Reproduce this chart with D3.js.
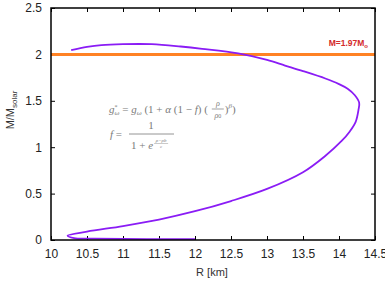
<!DOCTYPE html>
<html>
<head>
<meta charset="utf-8">
<script src="https://cdn.jsdelivr.net/npm/d3@7"></script>
<style>
  body { margin: 0; background: #fff; }
  svg { display: block; }
  .tick text { font-family: "Liberation Sans", Arial, sans-serif; font-size: 12px; fill: #222; }
</style>
</head>
<body>
<svg id="chart" width="385" height="282"></svg>
<script>
// mass-radius curve
let radius = [10.28, 10.5, 10.7, 11.0, 11.4, 11.8, 12.1, 12.6, 13.0, 13.25, 13.5, 13.81, 14.0, 14.12,
  14.22, 14.28, 14.27, 14.23, 14.15, 14.04, 13.8, 13.5, 13.0, 12.5, 12.0, 11.5, 11.0, 10.5,
  10.23, 10.32, 10.6, 11.0, 11.5, 12.0];
let mass = [2.045, 2.08, 2.10, 2.11, 2.11, 2.085, 2.06, 2.01, 1.94, 1.88, 1.82, 1.74, 1.68, 1.63,
  1.56, 1.48, 1.40, 1.27, 1.17, 1.07, 0.9, 0.73, 0.55, 0.42, 0.31, 0.22, 0.15, 0.09,
  0.047, 0.02, 0.015, 0.012, 0.01, 0.01];
let obsMass = 2.0;
let obsLabel = "M=1.97M";
let xTicks = [10, 10.5, 11, 11.5, 12, 12.5, 13, 13.5, 14, 14.5];
let yTicks = [0, 0.5, 1, 1.5, 2, 2.5];

let plotLeft = 51, plotRight = 375, plotTop = 8, plotBottom = 240;

let svg = d3.select("#chart");

let x = d3.scaleLinear().domain([10, 14.5]).range([plotLeft, plotRight]);
let y = d3.scaleLinear().domain([0, 2.5]).range([plotBottom, plotTop]);

let fmt = (d) => d3.format("")(d);

// axes with inward ticks
svg.append("g")
  .attr("transform", `translate(0,${plotBottom})`)
  .call(d3.axisBottom(x).tickValues(xTicks).tickFormat(fmt).tickSizeInner(-4).tickSizeOuter(0).tickPadding(9))
  .call((g) => g.select(".domain").remove());
svg.append("g")
  .attr("transform", `translate(0,${plotTop})`)
  .call(d3.axisTop(x).tickValues(xTicks).tickFormat("").tickSizeInner(-4).tickSizeOuter(0))
  .call((g) => g.select(".domain").remove());
svg.append("g")
  .attr("transform", `translate(${plotLeft},0)`)
  .call(d3.axisLeft(y).tickValues(yTicks).tickFormat(fmt).tickSizeInner(-4).tickSizeOuter(0).tickPadding(9))
  .call((g) => g.select(".domain").remove());
svg.append("g")
  .attr("transform", `translate(${plotRight},0)`)
  .call(d3.axisRight(y).tickValues(yTicks).tickFormat("").tickSizeInner(-4).tickSizeOuter(0))
  .call((g) => g.select(".domain").remove());

svg.selectAll(".tick line").style("stroke", "#000").style("stroke-width", 1);

// orange observational line
svg.append("line")
  .attr("x1", x(10)).attr("x2", x(14.5))
  .attr("y1", y(obsMass)).attr("y2", y(obsMass))
  .style("stroke", "#ff8224")
  .style("stroke-width", 3);

let lbl = svg.append("text")
  .attr("x", 368).attr("y", 46)
  .attr("text-anchor", "end")
  .style("font-family", "Liberation Sans, Arial, sans-serif")
  .style("font-size", "8.5px")
  .style("font-weight", "bold")
  .style("fill", "#d42a2a")
  .text(obsLabel);
lbl.append("tspan").attr("dy", 2).style("font-size", "6px").text("o");

// mass-radius curve
let line = d3.line()
  .x((d, i) => x(radius[i]))
  .y((d, i) => y(mass[i]))
  .curve(d3.curveCatmullRom);

svg.append("path")
  .datum(radius)
  .attr("d", line)
  .style("fill", "none")
  .style("stroke", "#8a1cf5")
  .style("stroke-width", 1.8);

// frame
svg.append("rect")
  .attr("x", plotLeft).attr("y", plotTop)
  .attr("width", plotRight - plotLeft).attr("height", plotBottom - plotTop)
  .style("fill", "none")
  .style("stroke", "#000")
  .style("stroke-width", 1.5);

// formula in gray
let eq = svg.append("g")
  .style("font-family", "Liberation Serif, DejaVu Serif, serif")
  .style("fill", "#7a7a7a");

let l1 = eq.append("text").attr("x", 109).attr("y", 113).style("font-size", "11px");
l1.append("tspan").style("font-style", "italic").text("g");
l1.append("tspan").attr("dy", -4).style("font-size", "6px").text("*");
l1.append("tspan").attr("dx", -3).attr("dy", 6).style("font-size", "7px").style("font-style", "italic").text("ω");
l1.append("tspan").attr("dy", -2).text(" = ");
l1.append("tspan").style("font-style", "italic").text("g");
l1.append("tspan").attr("dy", 2).style("font-size", "7px").style("font-style", "italic").text("ω");
l1.append("tspan").attr("dy", -2).text(" (1 + ");
l1.append("tspan").style("font-style", "italic").text("α");
l1.append("tspan").text(" (1 − ");
l1.append("tspan").style("font-style", "italic").text("f");
l1.append("tspan").text(") (");

let fx = 109 + l1.node().getComputedTextLength() + 1;
eq.append("text").attr("x", fx + 6).attr("y", 106).attr("text-anchor", "middle").style("font-size", "8px").style("font-style", "italic").text("ρ");
eq.append("line").attr("x1", fx).attr("x2", fx + 12).attr("y1", 109).attr("y2", 109).style("stroke", "#7a7a7a").style("stroke-width", 0.7);
let r0 = eq.append("text").attr("x", fx + 6).attr("y", 118).attr("text-anchor", "middle").style("font-size", "8px");
r0.append("tspan").style("font-style", "italic").text("ρ");
r0.append("tspan").style("font-size", "6px").text("0");
let l1b = eq.append("text").attr("x", fx + 13).attr("y", 113).style("font-size", "11px");
l1b.append("tspan").text(")");
l1b.append("tspan").attr("dy", -5).style("font-size", "7px").style("font-style", "italic").text("β");
l1b.append("tspan").attr("dy", 5).text(")");

let l2 = eq.append("text").attr("x", 110).attr("y", 138).style("font-size", "11px");
l2.append("tspan").style("font-style", "italic").text("f");
l2.append("tspan").text(" =");
eq.append("text").attr("x", 151).attr("y", 129).attr("text-anchor", "middle").style("font-size", "11px").text("1");
eq.append("line").attr("x1", 129).attr("x2", 174).attr("y1", 134).attr("y2", 134).style("stroke", "#7a7a7a").style("stroke-width", 0.8);
let l3 = eq.append("text").attr("x", 131).attr("y", 149).style("font-size", "11px");
l3.append("tspan").text("1 + ");
l3.append("tspan").style("font-style", "italic").text("e");
let ex = 131 + l3.node().getComputedTextLength() + 1;
eq.append("text").attr("x", ex + 7).attr("y", 142).attr("text-anchor", "middle").style("font-size", "5px").style("font-style", "italic").text("ρ−ρb");
eq.append("line").attr("x1", ex).attr("x2", ex + 14).attr("y1", 143.5).attr("y2", 143.5).style("stroke", "#7a7a7a").style("stroke-width", 0.4);
eq.append("text").attr("x", ex + 7).attr("y", 148).attr("text-anchor", "middle").style("font-size", "4.5px").style("font-style", "italic").text("c");

// axis titles
svg.append("text")
  .attr("x", 212).attr("y", 276)
  .attr("text-anchor", "middle")
  .style("font-family", "Liberation Sans, Arial, sans-serif")
  .style("font-size", "11px")
  .style("fill", "#333")
  .text("R [km]");

let yl = svg.append("text")
  .attr("transform", "translate(14,110) rotate(-90)")
  .attr("text-anchor", "middle")
  .style("font-family", "Liberation Sans, Arial, sans-serif")
  .style("font-size", "11px")
  .style("fill", "#333")
  .text("M/M");
yl.append("tspan").attr("dy", 3).style("font-size", "8px").text("solar");
</script>
</body>
</html>
